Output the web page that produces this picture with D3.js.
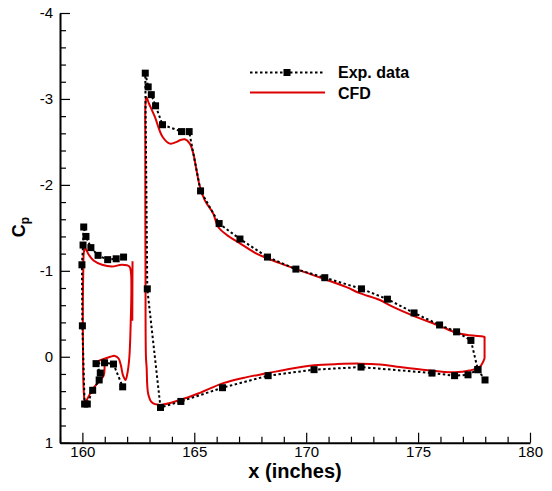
<!DOCTYPE html>
<html><head><meta charset="utf-8">
<script src="https://cdn.jsdelivr.net/npm/d3@7"></script>
<style>
html,body{margin:0;padding:0;background:#fff;}
svg{display:block;font-family:"Liberation Sans",Arial,Helvetica,sans-serif;}
</style></head>
<body>
<svg id="c" width="552" height="491"></svg>
<script>
// ---- data ----
const xTicks = [160, 165, 170, 175, 180];
const yTicks = [-4, -3, -2, -1, 0, 1];
const seriesNames = ["Exp. data", "CFD"];

// experimental Cp, slat
const expSlatX = [161.84,161.51,161.13,160.70,160.38,160.16,160.06,160.03,159.98,160.00,160.10,160.22,160.46,160.75,160.80,160.61,160.99,161.39,161.80];
const expSlatCp = [-1.16,-1.14,-1.13,-1.18,-1.27,-1.40,-1.51,-1.30,-1.07,-0.36,0.55,0.55,0.39,0.27,0.19,0.08,0.07,0.085,0.35];
// experimental Cp, main element
const expMainX = [177.99,177.67,177.36,176.72,175.96,174.82,173.63,172.47,170.83,169.54,168.27,167.04,166.11,165.28,164.77,164.43,163.58,163.27,163.08,162.94,162.81,162.90,163.49,164.40,166.26,168.30,170.35,172.45,175.62,176.63,177.23,177.67];
const expMainCp = [0.27,0.15,-0.19,-0.29,-0.37,-0.51,-0.67,-0.79,-0.92,-1.02,-1.16,-1.37,-1.55,-1.93,-2.62,-2.62,-2.70,-2.92,-3.05,-3.14,-3.30,-0.79,0.59,0.52,0.36,0.22,0.15,0.12,0.19,0.22,0.21,0.15];

// CFD, slat (null = gap)
const cfdSlatX = [160.62,160.80,161.02,161.25,161.45,161.62,161.72,161.82,161.93,162.02,162.10,162.16,162.19,162.17,162.10,161.77,161.32,160.88,160.50,160.28,160.13,160.07,160.04,160.02,160.03,160.06,160.12,160.20,160.43,160.70,160.95,160.98,null,162.24,162.23];
const cfdSlatCp = [0.07,0.04,0.02,0.00,-0.01,0.02,0.10,0.22,0.27,0.18,0.00,-0.40,-0.80,-0.98,-1.05,-1.07,-1.05,-1.07,-1.12,-1.19,-1.26,-1.22,-1.00,-0.50,0.00,0.40,0.53,0.50,0.39,0.30,0.22,0.05,null,-1.11,-0.42];
// CFD, main element
const cfdMainX = [177.97,177.97,177.97,177.97,177.90,177.30,176.71,175.96,174.85,173.88,173.29,172.39,171.80,170.31,168.82,167.78,167.04,166.44,166.07,165.84,165.47,165.25,165.10,164.95,164.80,164.58,164.36,164.21,163.91,163.58,163.24,162.97,162.86,162.82,162.81,162.82,162.84,162.87,162.94,163.10,163.46,164.40,165.25,166.26,167.30,168.30,169.30,170.35,171.40,172.42,173.30,174.20,175.20,176.63,177.30,177.75,177.97];
const cfdMainCp = [0.02,-0.10,-0.21,-0.23,-0.235,-0.25,-0.28,-0.36,-0.47,-0.58,-0.66,-0.74,-0.81,-0.95,-1.09,-1.20,-1.32,-1.42,-1.51,-1.67,-1.82,-1.98,-2.17,-2.37,-2.48,-2.53,-2.52,-2.50,-2.48,-2.56,-2.79,-2.95,-3.02,-2.95,-2.50,-1.00,0.00,0.12,0.43,0.53,0.56,0.50,0.42,0.31,0.24,0.19,0.14,0.10,0.085,0.08,0.09,0.12,0.15,0.18,0.16,0.12,0.02];

// ---- chart ----
const svg = d3.select("#c");
const x = d3.scaleLinear().domain([159, 180]).range([60, 530]);
const y = d3.scaleLinear().domain([-4, 1]).range([13, 442.7]);

const zip = (xs, ys) => xs.map((v, i) => (v === null ? null : [v, ys[i]]));
const line = d3.line().defined(d => d !== null).x(d => x(d[0])).y(d => y(d[1]));
const smooth = d3.line().defined(d => d !== null).x(d => x(d[0])).y(d => y(d[1]))
  .curve(d3.curveCatmullRom.alpha(0.5));

// CFD
[zip(cfdSlatX, cfdSlatCp), zip(cfdMainX, cfdMainCp)].forEach(pts => {
  svg.append("path").attr("d", smooth(pts)).attr("fill", "none")
    .attr("stroke", "#dd0000").attr("stroke-width", 2).attr("stroke-linejoin", "round");
});
// Exp
[zip(expSlatX, expSlatCp), zip(expMainX, expMainCp)].forEach(pts => {
  svg.append("path").attr("d", line(pts)).attr("fill", "none")
    .attr("stroke", "#000").attr("stroke-width", 2).attr("stroke-dasharray", "2.5,2.5");
  svg.append("g").selectAll("rect").data(pts).join("rect")
    .attr("x", d => x(d[0]) - 3.5).attr("y", d => y(d[1]) - 3.5)
    .attr("width", 7).attr("height", 7).attr("fill", "#000");
});

// axes
const fmt = d => String(d);
svg.append("g").attr("transform", `translate(0,${y(1)})`)
  .call(d3.axisBottom(x).tickValues(xTicks).tickFormat(fmt).tickSizeInner(-10).tickSizeOuter(0).tickPadding(4));
svg.append("g").attr("transform", `translate(0,${y(1)})`)
  .call(d3.axisBottom(x).tickValues(d3.range(159, 181, 1).filter(v => !xTicks.includes(v))).tickFormat("").tickSizeInner(-6).tickSizeOuter(0))
  .select(".domain").remove();
svg.append("g").attr("transform", `translate(${x(159)},0)`)
  .call(d3.axisLeft(y).tickValues(yTicks).tickFormat(fmt).tickSizeInner(-10).tickSizeOuter(0).tickPadding(7));
svg.append("g").attr("transform", `translate(${x(159)},0)`)
  .call(d3.axisLeft(y).tickValues(d3.range(-40, 11, 2).map(v => v / 10).filter(v => !yTicks.includes(v))).tickFormat("").tickSizeInner(-6).tickSizeOuter(0))
  .select(".domain").remove();
svg.selectAll(".domain").attr("stroke", "#000").attr("stroke-width", 2);
svg.selectAll(".tick line").attr("stroke", "#000").attr("stroke-width", 1.2);
svg.selectAll(".tick text").attr("font-size", 15).attr("fill", "#000")
  .attr("font-family", "'Liberation Sans',Arial,sans-serif");

// axis titles
svg.append("text").attr("x", 295).attr("y", 478).attr("text-anchor", "middle")
  .attr("font-size", 20).attr("font-weight", "bold").text("x (inches)");
const yl = svg.append("text").attr("transform", "translate(25,227) rotate(-90)")
  .attr("text-anchor", "middle").attr("font-size", 18).attr("font-weight", "bold");
yl.append("tspan").text("C");
yl.append("tspan").attr("font-size", 12).attr("dy", 4).text("p");

// legend
const lg = svg.append("g");
lg.append("line").attr("x1", 250).attr("x2", 325).attr("y1", 72.5).attr("y2", 72.5)
  .attr("stroke", "#000").attr("stroke-width", 2).attr("stroke-dasharray", "2.5,2.5");
lg.append("rect").attr("x", 287 - 3.5).attr("y", 72.5 - 3.5).attr("width", 7).attr("height", 7).attr("fill", "#000");
lg.append("line").attr("x1", 250).attr("x2", 325).attr("y1", 92.5).attr("y2", 92.5)
  .attr("stroke", "#dd0000").attr("stroke-width", 2);
lg.append("text").attr("x", 338).attr("y", 78).attr("font-size", 16).attr("font-weight", "bold").text(seriesNames[0]);
lg.append("text").attr("x", 338).attr("y", 99).attr("font-size", 16).attr("font-weight", "bold").text(seriesNames[1]);
</script>
</body></html>
